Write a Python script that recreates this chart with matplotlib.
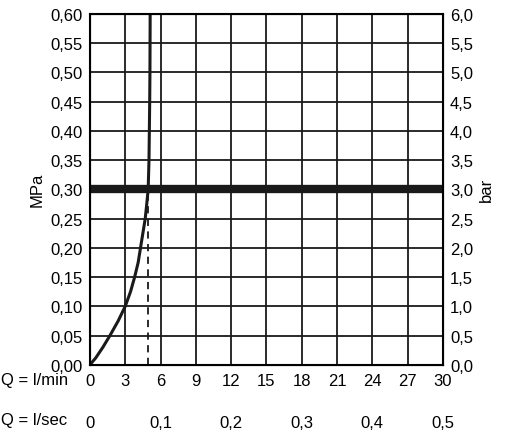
import matplotlib
matplotlib.use("Agg")
import matplotlib.pyplot as plt

curve_q = [0, 0.5, 1.1, 1.7, 2.4, 3.0, 3.45, 3.8, 4.1, 4.3, 4.5, 4.7, 4.83, 4.95, 5.02, 5.05, 5.08, 5.1, 5.12]
curve_p = [0, 0.012, 0.03, 0.05, 0.075, 0.10, 0.125, 0.15, 0.175, 0.20, 0.225, 0.25, 0.275, 0.30, 0.35, 0.40, 0.45, 0.50, 0.60]
op_q = 4.9
op_p = 0.30
lmin_ticks = [0, 3, 6, 9, 12, 15, 18, 21, 24, 27, 30]
lsec_pos = [0, 6, 12, 18, 24, 30]
lsec_labels = ["0", "0,1", "0,2", "0,3", "0,4", "0,5"]
mpa_ticks = [i * 0.05 for i in range(13)]

plt.rcParams['font.family'] = ['Liberation Sans', 'DejaVu Sans']
FS = 12
fig = plt.figure(figsize=(5.08, 4.35), dpi=100)
ax = fig.add_axes([0.177, 0.159, 0.695, 0.807])
ax.set_xlim(0, 30)
ax.set_ylim(0, 0.6)
ax.set_xticks(lmin_ticks)
ax.set_xticklabels([])
ax.set_yticks(mpa_ticks)
ax.set_yticklabels([f"{v:.2f}".replace(".", ",") for v in mpa_ticks], fontsize=FS)
ax.grid(True, color="#1a1a1a", linewidth=1.3)
ax.tick_params(length=0, pad=5)
for s in ax.spines.values():
    s.set_linewidth(1.5)
ax.set_ylabel("MPa", fontsize=FS)

ax.axhline(op_p, color="#1a1a1a", linewidth=6)
ax.plot(curve_q, curve_p, color="#1a1a1a", linewidth=2.2)
ax.plot([op_q, op_q], [0, op_p], color="#1a1a1a", linewidth=1.3, linestyle=(0, (4, 3)))

ax2 = ax.twinx()
ax2.set_ylim(0, 6)
ax2.set_yticks([i * 0.5 for i in range(13)])
ax2.set_yticklabels([f"{i*0.5:.1f}".replace(".", ",") for i in range(13)], fontsize=FS)
ax2.tick_params(length=0, pad=5)
ax2.set_ylabel("bar", fontsize=FS)

trans = ax.get_xaxis_transform()
for t in lmin_ticks:
    ax.text(t, -0.045, str(t), transform=trans, ha="center", va="center", fontsize=FS)
for p, l in zip(lsec_pos, lsec_labels):
    ax.text(p, -0.165, l, transform=trans, ha="center", va="center", fontsize=FS)
fig.text(0.002, 1 - 380 / 435, "Q = l/min", ha="left", va="center", fontsize=FS)
fig.text(0.002, 1 - 421 / 435, "Q = l/sec", ha="left", va="center", fontsize=FS)

fig.savefig("out.png", dpi=100)
